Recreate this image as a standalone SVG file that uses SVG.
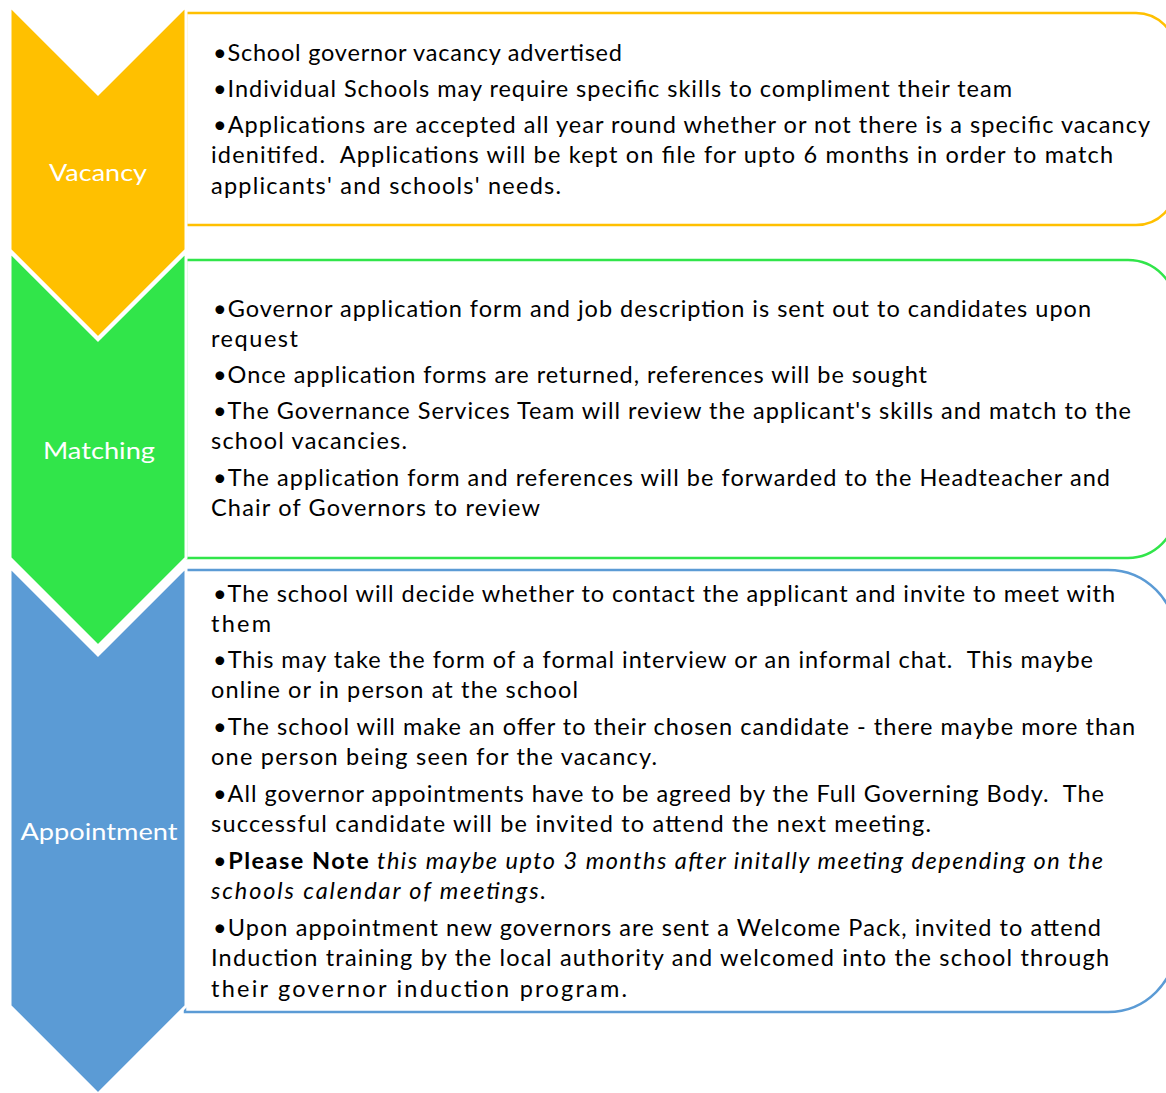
<svg xmlns="http://www.w3.org/2000/svg" width="1166" height="1093" viewBox="0 0 1166 1093">
<style>
.t{font-family:Lato,"Liberation Sans",sans-serif;font-size:23.5px;fill:#000;white-space:pre}
.lbl{font-family:Lato,"Liberation Sans",sans-serif;font-size:24px;fill:#fff;text-anchor:middle}
.box{fill:#fff;stroke-width:2.5}
.chev{stroke:#fff;stroke-width:3;stroke-linejoin:miter}
</style>
<rect width="1166" height="1093" fill="#fff"/>
<g id="connectors"></g>
<g id="box-vacancy">
<path class="box" stroke="#FFC000" d="M186,13 H1136 A40,40 0 0 1 1176,53 V185 A40,40 0 0 1 1136,225 H186 Z"/>
<text class="t" x="213" y="61" textLength="409" lengthAdjust="spacing">•School governor vacancy advertised</text>
<text class="t" x="213" y="97" textLength="799" lengthAdjust="spacing">•Individual Schools may require specific skills to compliment their team</text>
<text class="t" x="213" y="133" textLength="937" lengthAdjust="spacing">•Applications are accepted all year round whether or not there is a specific vacancy</text>
<text class="t" x="211" y="163" textLength="902" lengthAdjust="spacing">idenitifed.  Applications will be kept on file for upto 6 months in order to match</text>
<text class="t" x="211" y="194" textLength="350" lengthAdjust="spacing">applicants' and schools' needs.</text>
</g>
<g id="box-matching">
<path class="box" stroke="#31E54A" d="M186,260 H1128 A48,48 0 0 1 1176,308 V510 A48,48 0 0 1 1128,558 H186 Z"/>
<text class="t" x="213" y="317" textLength="878" lengthAdjust="spacing">•Governor application form and job description is sent out to candidates upon</text>
<text class="t" x="211" y="347" textLength="87" lengthAdjust="spacing">request</text>
<text class="t" x="213" y="383" textLength="714" lengthAdjust="spacing">•Once application forms are returned, references will be sought</text>
<text class="t" x="213" y="419" textLength="918" lengthAdjust="spacing">•The Governance Services Team will review the applicant's skills and match to the</text>
<text class="t" x="211" y="449" textLength="196" lengthAdjust="spacing">school vacancies.</text>
<text class="t" x="213" y="486" textLength="897" lengthAdjust="spacing">•The application form and references will be forwarded to the Headteacher and</text>
<text class="t" x="211" y="516" textLength="329" lengthAdjust="spacing">Chair of Governors to review</text>
</g>
<g id="box-appointment">
<path class="box" stroke="#5B9BD5" d="M185,570 H1108 A68,68 0 0 1 1176,638 V944 A68,68 0 0 1 1108,1012 H185 Z"/>
<text class="t" x="213" y="602" textLength="902" lengthAdjust="spacing">•The school will decide whether to contact the applicant and invite to meet with</text>
<text class="t" x="211" y="632" textLength="60" lengthAdjust="spacing">them</text>
<text class="t" x="213" y="668" textLength="880" lengthAdjust="spacing">•This may take the form of a formal interview or an informal chat.  This maybe</text>
<text class="t" x="211" y="698" textLength="367" lengthAdjust="spacing">online or in person at the school</text>
<text class="t" x="213" y="735" textLength="922" lengthAdjust="spacing">•The school will make an offer to their chosen candidate - there maybe more than</text>
<text class="t" x="211" y="765" textLength="446" lengthAdjust="spacing">one person being seen for the vacancy.</text>
<text class="t" x="213" y="802" textLength="891" lengthAdjust="spacing">•All governor appointments have to be agreed by the Full Governing Body.  The</text>
<text class="t" x="211" y="832" textLength="720" lengthAdjust="spacing">successful candidate will be invited to attend the next meeting.</text>
<text class="t" x="213" y="869" textLength="890" lengthAdjust="spacing">•<tspan font-weight="bold">Please Note</tspan><tspan font-style="italic"> this maybe upto 3 months after initally meeting depending on the</tspan></text>
<text class="t" x="211" y="899" textLength="335" lengthAdjust="spacing" font-style="italic">schools calendar of meetings.</text>
<text class="t" x="213" y="936" textLength="888" lengthAdjust="spacing">•Upon appointment new governors are sent a Welcome Pack, invited to attend</text>
<text class="t" x="211" y="966" textLength="898" lengthAdjust="spacing">Induction training by the local authority and welcomed into the school through</text>
<text class="t" x="211" y="997" textLength="416" lengthAdjust="spacing">their governor induction program.</text>
</g>
<g id="chevron-appointment">
<path class="chev" fill="#5B9BD5" d="M10,567 L98,655 L186,567 L186,1006 L98,1094 L10,1006 Z"/>
<text class="lbl" x="99" y="840" textLength="157" lengthAdjust="spacingAndGlyphs">Appointment</text>
</g>
<g id="chevron-matching">
<path class="chev" fill="#31E54A" d="M10,252 L98,340 L186,252 L186,558 L98,646 L10,558 Z"/>
<text class="lbl" x="99" y="459" textLength="112" lengthAdjust="spacingAndGlyphs">Matching</text>
</g>
<g id="chevron-vacancy">
<path class="chev" fill="#FFC000" d="M10,6 L98,94 L186,6 L186,250 L98,338 L10,250 Z"/>
<text class="lbl" x="98" y="181" textLength="98" lengthAdjust="spacingAndGlyphs">Vacancy</text>
</g>
</svg>
